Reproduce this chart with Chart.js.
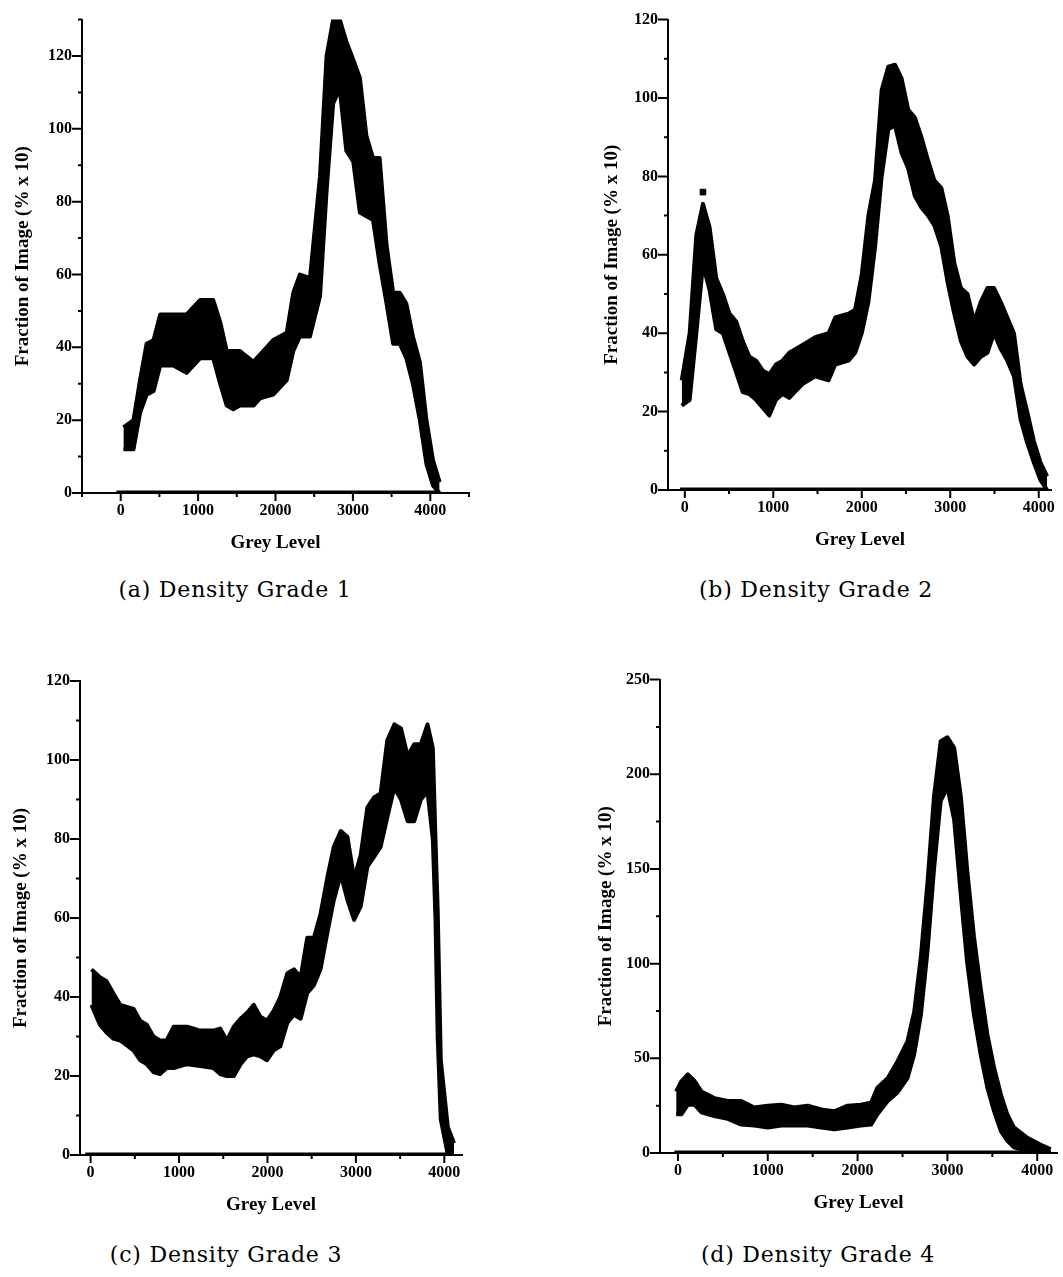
<!DOCTYPE html>
<html>
<head>
<meta charset="utf-8">
<title>Grey level histograms by density grade</title>
<script src="https://cdn.jsdelivr.net/npm/chart.js@4.4.1/dist/chart.umd.min.js"></script>
<style>
  html, body { margin: 0; padding: 0; background: #fff; }
  body { width: 1063px; height: 1277px; position: relative; overflow: hidden; }
  canvas { position: absolute; }
  .caption {
    position: absolute;
    transform: translate(-50%, -50%);
    font-family: 'DejaVu Serif', serif;
    font-size: 22px;
    letter-spacing: 0.8px;
    white-space: nowrap;
    color: #000;
  }
</style>
</head>
<body>
<canvas id="grade-1" width="490" height="570" style="left:0px;top:0px"></canvas>
<canvas id="grade-2" width="473" height="570" style="left:590px;top:0px"></canvas>
<canvas id="grade-3" width="480" height="570" style="left:0px;top:660px"></canvas>
<canvas id="grade-4" width="483" height="570" style="left:580px;top:660px"></canvas>

<div class="caption" style="left:235px;top:589px">(a) Density Grade 1</div>
<div class="caption" style="left:816px;top:589px">(b) Density Grade 2</div>
<div class="caption" style="left:226px;top:1254px">(c) Density Grade 3</div>
<div class="caption" style="left:818px;top:1254px">(d) Density Grade 4</div>

<script>
// Histogram bands: upper / lower edge of the point cloud at each grey level
const grade1Levels = [35, 165, 250, 335, 425, 510, 680, 850, 1025, 1195, 1285, 1370, 1455, 1540, 1715, 1800, 1970, 2145, 2230, 2315, 2445, 2575, 2660, 2745, 2830, 2915, 3005, 3090, 3175, 3260, 3345, 3435, 3520, 3605, 3690, 3775, 3865, 3950, 4035, 4120];
const grade1Upper  = [18, 20, 31, 41, 42, 49, 49, 49, 53, 53, 47, 39, 39, 39, 36, 38, 42, 44, 55, 60, 59, 87, 120, 130, 130, 124, 119, 114, 98, 92, 92, 68, 55, 55, 52, 43, 36, 20, 9, 3];
const grade1Lower  = [12, 12, 22, 27, 28, 35, 35, 33, 37, 37, 30, 24, 23, 24, 24, 26, 27, 31, 39, 43, 43, 54, 83, 107, 111, 94, 91, 77, 76, 75, 63, 52, 41, 41, 37, 30, 20, 8, 2, 0];
const grade1Empty  = [-55, 4120];

const grade2Levels = [-35, 55, 130, 205, 280, 355, 430, 505, 580, 655, 730, 805, 880, 955, 1030, 1105, 1180, 1330, 1475, 1625, 1700, 1850, 1925, 2000, 2075, 2150, 2225, 2300, 2375, 2450, 2525, 2600, 2675, 2750, 2820, 2900, 2970, 3045, 3120, 3195, 3270, 3345, 3420, 3495, 3570, 3645, 3720, 3795, 3870, 3945, 4020, 4095];
const grade2Upper  = [28, 40, 65, 73, 67, 54, 50, 45, 43, 38, 34, 33, 30.5, 29.5, 32, 33, 35, 37, 39, 40, 44, 45, 46, 55, 70, 79, 102, 108, 108.5, 105, 97, 95, 90, 84, 79, 77, 70, 58, 51.5, 50, 43, 48, 51.5, 51.5, 48, 44, 40, 27, 20, 12.5, 7, 3.5];
const grade2Lower  = [21.5, 23, 40, 57.5, 51, 41, 40, 35, 30, 25, 24.5, 23, 21, 19, 23, 24.5, 23.5, 27, 29, 28, 32, 33, 35, 40, 48, 62, 80, 92, 93, 86, 82, 75, 72, 70, 67.5, 62, 53, 45, 38, 34, 32, 34, 35, 40, 36, 33, 29, 18, 12, 7, 2.5, 0];
const grade2Empty  = [-55, 4100];
const grade2StrayLevels = [205];
const grade2StrayValues = [76];

const grade3Levels = [10, 105, 180, 255, 335, 485, 560, 635, 710, 785, 860, 940, 1090, 1240, 1390, 1465, 1540, 1620, 1695, 1770, 1845, 1920, 1995, 2070, 2145, 2225, 2300, 2375, 2450, 2525, 2600, 2675, 2750, 2830, 2905, 2980, 3055, 3130, 3205, 3280, 3355, 3435, 3510, 3585, 3660, 3735, 3810, 3870, 3900, 3925, 3960, 4040, 4110];
const grade3Upper  = [47, 45, 44, 41, 38, 37, 34, 33, 30, 29, 29, 32.5, 32.5, 31.5, 31.5, 32, 29, 32.5, 34.5, 36, 38, 35, 34, 36.5, 40, 46, 47, 45, 55, 55, 61, 70, 78, 82, 80.5, 70, 76, 88, 90.5, 91.5, 105, 109, 108, 101, 104, 104, 109, 103, 80, 62, 24, 7, 3];
const grade3Lower  = [38, 33, 31, 29.5, 29, 26.5, 24, 23, 21, 20.5, 22, 22, 23, 22.5, 22, 20.5, 20, 20, 23, 25, 25.5, 25, 24, 26.5, 27.5, 33.5, 35.5, 34.5, 41, 43, 47, 56, 64.5, 71, 64.5, 59.5, 63, 73, 75.5, 78, 85.5, 93, 90, 84.5, 84.5, 90, 92, 80, 60, 30, 9, 0, 0];
const grade3Empty  = [-60, 4100];

const grade4Levels = [-20, 40, 110, 185, 260, 405, 555, 705, 850, 1000, 1150, 1295, 1445, 1595, 1740, 1890, 2035, 2150, 2220, 2335, 2445, 2555, 2630, 2705, 2780, 2850, 2925, 3000, 3075, 3150, 3220, 3295, 3370, 3445, 3520, 3595, 3665, 3740, 3890, 4035, 4150];
const grade4Upper  = [32.5, 38, 41.5, 38, 32.5, 29, 27.5, 27.5, 24, 25, 25.5, 24, 25, 23, 22, 25, 25.5, 26.5, 34.5, 39.5, 48.5, 59, 74.5, 104, 144, 188, 217.5, 219.5, 214, 188, 149.5, 114.5, 87, 62.5, 45, 31, 20.5, 13.5, 8, 4.5, 2];
const grade4Lower  = [20.5, 20.5, 25.5, 25.5, 21.5, 19.5, 18, 15, 14.5, 13.5, 14.5, 14.5, 14.5, 13.5, 12.5, 13.5, 14.5, 15, 20.5, 27.5, 32, 39.5, 52, 73, 107.5, 149.5, 186, 193, 176, 135.5, 100.5, 73, 52, 34.5, 22, 11.5, 6.5, 3, 1, 0.5, 0];
const grade4Empty  = [-40, 4150];

// Tick positions (all get a mark) and the subset that carries a label
const greyLevelSteps = [-500, 0, 500, 1000, 1500, 2000, 2500, 3000, 3500, 4000, 4500];
const greyLevelTicks = [0, 1000, 2000, 3000, 4000];
const fractionSteps = [0, 10, 20, 30, 40, 50, 60, 70, 80, 90, 100, 110, 120, 130];
const fractionTicks = [0, 20, 40, 60, 80, 100, 120];
const fractionStepsWide = [0, 25, 50, 75, 100, 125, 150, 175, 200, 225, 250];
const fractionTicksWide = [0, 50, 100, 150, 200, 250];

const tickFont = { family: "'Liberation Serif', serif", size: 16, weight: 'bold' };
const titleFont = { family: "'Liberation Serif', serif", size: 19, weight: 'bold' };

// Outward tick marks: long for labelled ticks, short for minor ones
const tickMarks = {
    id: 'tickMarks',
    afterDraw(chart, args, opts) {
        const { ctx, chartArea, scales } = chart;
        ctx.save();
        ctx.strokeStyle = '#000';
        ctx.lineWidth = 2;
        ctx.beginPath();
        scales.x.ticks.forEach(t => {
            const px = scales.x.getPixelForValue(t.value);
            const len = opts.xLabels.includes(t.value) ? 8 : 4;
            ctx.moveTo(px, chartArea.bottom);
            ctx.lineTo(px, chartArea.bottom + len);
        });
        scales.y.ticks.forEach(t => {
            const py = scales.y.getPixelForValue(t.value);
            const len = opts.yLabels.includes(t.value) ? 10 : 4;
            ctx.moveTo(chartArea.left, py);
            ctx.lineTo(chartArea.left - len, py);
        });
        ctx.stroke();
        ctx.restore();
    }
};

function renderPanel(canvasId, p) {
    const ctx = document.getElementById(canvasId);
    if (!ctx) return;

    const points = (xs, ys) => xs.map((x, i) => ({ x: x, y: ys[i] }));
    const edge = {
        borderColor: '#000',
        borderWidth: 4,
        borderJoinStyle: 'round',
        pointRadius: 0,
        tension: 0,
    };

    const datasets = [
        { ...edge, data: points(p.levels, p.upper), backgroundColor: '#000', fill: '+1' },
        { ...edge, data: points(p.levels, p.lower), fill: false },
        { ...edge, data: points(p.empty, p.empty.map(() => 0)), borderWidth: 5, fill: false },
    ];
    if (p.strayLevels) {
        datasets.push({
            data: points(p.strayLevels, p.strayValues),
            showLine: false,
            pointStyle: 'rect',
            pointRadius: 4,
            pointBackgroundColor: '#000',
            pointBorderColor: '#000',
        });
    }

    // Chart.js spreads stepSize ticks evenly when min and max are both set,
    // so the tick lists are handed to the scales directly
    const xSteps = greyLevelSteps.filter(v => v >= p.xMin && v <= p.xMax);
    const ySteps = p.ySteps.filter(v => v <= p.yMax);

    new Chart(ctx.getContext('2d'), {
        type: 'line',
        data: { datasets: datasets },
        options: {
            responsive: false,
            animation: false,
            devicePixelRatio: 1,
            layout: { padding: { top: p.padTop, right: p.padRight, left: 0, bottom: 0 } },
            plugins: {
                legend: { display: false },
                tooltip: { enabled: false },
                tickMarks: { xLabels: greyLevelTicks, yLabels: p.yLabels },
            },
            scales: {
                x: {
                    type: 'linear',
                    min: p.xMin,
                    max: p.xMax,
                    afterBuildTicks: s => { s.ticks = xSteps.map(v => ({ value: v })); },
                    afterFit: s => { s.height = p.xHeight; },
                    grid: { display: false, drawTicks: false },
                    border: { display: true, color: '#000', width: 2 },
                    ticks: {
                        autoSkip: false,
                        maxRotation: 0,
                        padding: 8,
                        color: '#000',
                        font: tickFont,
                        callback: v => greyLevelTicks.includes(v) ? String(v) : '',
                    },
                    title: {
                        display: true,
                        text: 'Grey Level',
                        color: '#000',
                        font: titleFont,
                        padding: { top: 0, bottom: p.xTitlePad },
                    },
                },
                y: {
                    type: 'linear',
                    min: 0,
                    max: p.yMax,
                    afterBuildTicks: s => { s.ticks = ySteps.map(v => ({ value: v })); },
                    afterFit: s => { s.width = p.yWidth; },
                    grid: { display: false, drawTicks: false },
                    border: { display: true, color: '#000', width: 2 },
                    ticks: {
                        autoSkip: false,
                        padding: 10,
                        color: '#000',
                        font: tickFont,
                        callback: v => p.yLabels.includes(v) ? String(v) : '',
                    },
                    title: {
                        display: true,
                        text: 'Fraction of Image (% x 10)',
                        color: '#000',
                        font: titleFont,
                        padding: { top: p.yTitlePad, bottom: 0 },
                    },
                },
            },
        },
        plugins: [tickMarks],
    });
}

renderPanel('grade-1', {
    levels: grade1Levels, upper: grade1Upper, lower: grade1Lower, empty: grade1Empty,
    xMin: -500, xMax: 4500, yMax: 130, ySteps: fractionSteps, yLabels: fractionTicks,
    yWidth: 82, xHeight: 77, padTop: 14, padRight: 21, yTitlePad: 12, xTitlePad: 16,
});

renderPanel('grade-2', {
    levels: grade2Levels, upper: grade2Upper, lower: grade2Lower, empty: grade2Empty,
    strayLevels: grade2StrayLevels, strayValues: grade2StrayValues,
    xMin: -190, xMax: 4150, yMax: 120, ySteps: fractionSteps, yLabels: fractionTicks,
    yWidth: 78, xHeight: 80, padTop: 17, padRight: 8, yTitlePad: 11, xTitlePad: 19,
});

renderPanel('grade-3', {
    levels: grade3Levels, upper: grade3Upper, lower: grade3Lower, empty: grade3Empty,
    xMin: -120, xMax: 4200, yMax: 120, ySteps: fractionSteps, yLabels: fractionTicks,
    yWidth: 80, xHeight: 75, padTop: 21, padRight: 18, yTitlePad: 10, xTitlePad: 14,
});

renderPanel('grade-4', {
    levels: grade4Levels, upper: grade4Upper, lower: grade4Lower, empty: grade4Empty,
    xMin: -200, xMax: 4220, yMax: 250, ySteps: fractionStepsWide, yLabels: fractionTicksWide,
    yWidth: 80, xHeight: 77, padTop: 15, padRight: 6, yTitlePad: 15, xTitlePad: 16,
});
</script>
</body>
</html>
